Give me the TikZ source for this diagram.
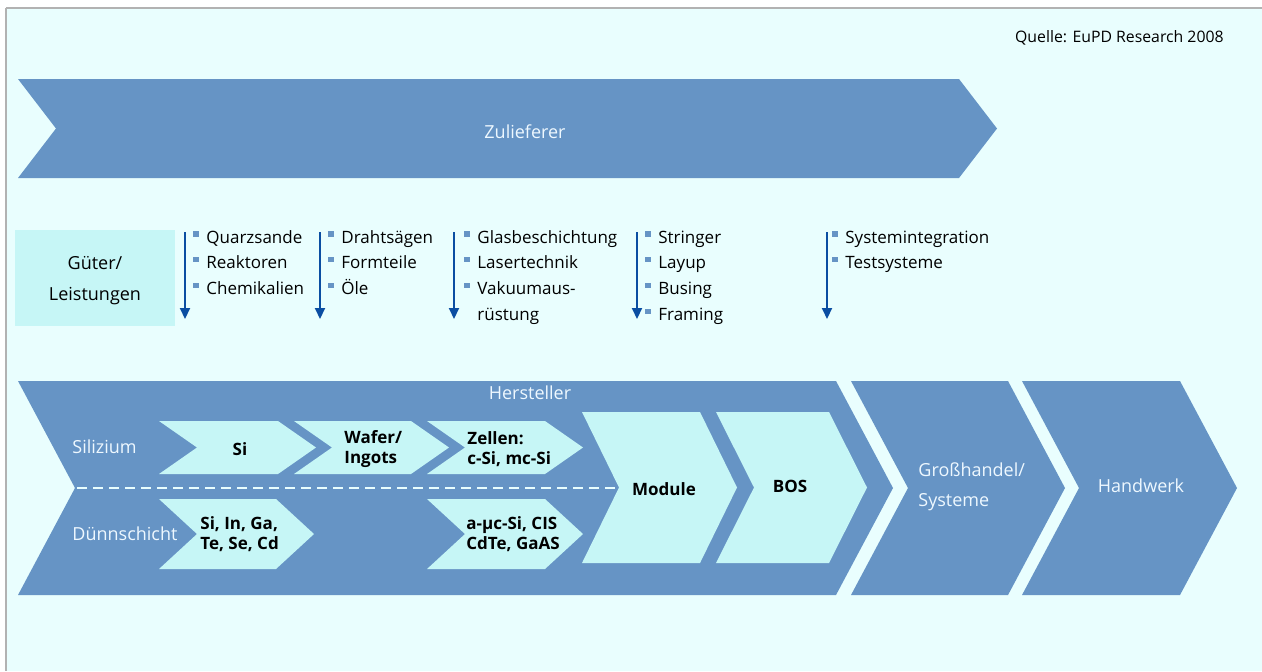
\documentclass[tikz,border=0pt]{standalone}
\usepackage{fontspec}
\setmainfont{Open Sans}
\usetikzlibrary{arrows.meta,positioning,calc}
\definecolor{paper}{HTML}{E9FEFE}
\definecolor{chain}{HTML}{6694C5}
\definecolor{stage}{HTML}{C6F6F6}
\definecolor{flow}{HTML}{0B4EA2}
\definecolor{onchain}{HTML}{EEF8FF}
% chevron: style, left x, right x (top corners), top y, bottom y, depth
\newcommand{\chev}[6]{%
  \fill[#1] (#2,#4) -- (#3,#4) -- ({#3+#6},{(#4+#5)/2}) -- (#3,#5) -- (#2,#5)
    -- ({#2+#6},{(#4+#5)/2}) -- cycle;}

\begin{document}
\begin{tikzpicture}[x=0.5pt,y=-0.5pt,>=Stealth,
  font=\fontsize{8.5}{10}\selectfont,
  lab/.style={text=onchain,font=\fontsize{9}{15}\selectfont,align=left,inner sep=0pt},
  item/.style={anchor=west,inner sep=0pt,text height=1.6ex,text depth=.45ex},
  bold/.style={font=\fontsize{8.5}{10}\selectfont\bfseries,align=left,inner sep=0pt},
  dot/.style={fill=chain,minimum size=2.6pt,inner sep=0pt},
  down/.style={flow,line width=1pt,-{Triangle[length=5.5pt,width=5pt]}}]
\useasboundingbox (0,0) rectangle (1262,671);

%% frame
\fill[white] (0,0) rectangle (1262,671);
\fill[paper] (6,8) rectangle (1262,671);
\draw[black!30,line width=0.6pt] (6,8) -- (1262,8);
\draw[black!30,line width=1.2pt] (6,8) -- (6,671);
\node[anchor=east,inner sep=0pt,font=\fontsize{7.9}{10}\selectfont] (src) at (1224,38) {Quelle: EuPD Research 2008};

%% suppliers
\chev{chain}{18}{959}{79}{178}{38}
\node[lab,font=\fontsize{9}{11}\selectfont] (zul) at (525,132) {Zulieferer};

%% goods and services
\node[fill=stage,minimum width=80pt,minimum height=48pt,inner sep=0pt] (gut) at (95,278) {};
\node[align=center,inner sep=0pt,font=\fontsize{9}{15.5}\selectfont] (gutlab) at (95,281) {Güter/\\Leistungen};
\foreach \n/\x in {1/185,2/320,3/454,4/637,5/827} {
  \coordinate (a\n) at (\x,232);
  \coordinate (b\n) at (\x,319);
  \draw[down] (a\n) -- (b\n);
}
\foreach \c/\x/\items in {1/206/{Quarzsande,Reaktoren,Chemikalien},
    2/341/{Drahtsägen,Formteile,Öle},
    3/477/{Glasbeschichtung,Lasertechnik,Vakuumaus-},
    4/658/{Stringer,Layup,Busing,Framing},
    5/845/{Systemintegration,Testsysteme}} {
  \foreach \t [count=\k] in \items {
    \node[item] (i\c\k) at (\x,{237+(\k-1)*25.7}) {\t};
    \node[dot] (d\c\k) at ($(i\c\k.west)+(-10,-3)$) {};
  }
}
\node[item] (i34) at (477,314) {rüstung};

%% manufacturers and trade
\chev{chain}{18}{836}{381}{595}{57}
\chev{chain}{851}{1008}{381}{595}{57}
\chev{chain}{1022}{1180}{381}{595}{57}
\node[lab] (her) at (530,393) {Hersteller};
\node[lab,anchor=west] (gross) at (918,487) {Großhandel/\\Systeme};
\node[lab] (hand) at (1141,486) {Handwerk};
\node[lab,anchor=west] (sil) at (72,447) {Silizium};
\node[lab,anchor=west] (duen) at (72,534) {Dünnschicht};

\coordinate (dl) at (77,488);
\coordinate (dr) at (616,488);
\draw[paper,line width=1pt,dash pattern=on 5pt off 3pt] (dl) -- (dr);

\chev{stage}{159}{278}{421}{474}{38}
\chev{stage}{294}{411}{421}{474}{38}
\chev{stage}{427}{545}{421}{474}{38}
\chev{stage}{159}{276}{499}{569}{38}
\chev{stage}{427}{545}{499}{569}{38}
\chev{stage}{582}{700}{412}{563}{37}
\chev{stage}{716}{829}{412}{563}{38}

\node[bold] (si) at (240,449) {Si};
\node[bold,anchor=west] (wafer) at (344,449) {Wafer/\\Ingots};
\node[bold,anchor=west] (zell) at (467,449) {Zellen:\\c-Si, mc-Si};
\node[bold,anchor=west] (roh) at (200,534) {Si, In, Ga,\\Te, Se, Cd};
\node[bold,anchor=west] (duenz) at (466,534) {a-µc-Si, CIS\\CdTe, GaAS};
\node[bold] (mod) at (664,489) {Module};
\node[bold] (bos) at (790,486) {BOS};
\end{tikzpicture}
\end{document}
